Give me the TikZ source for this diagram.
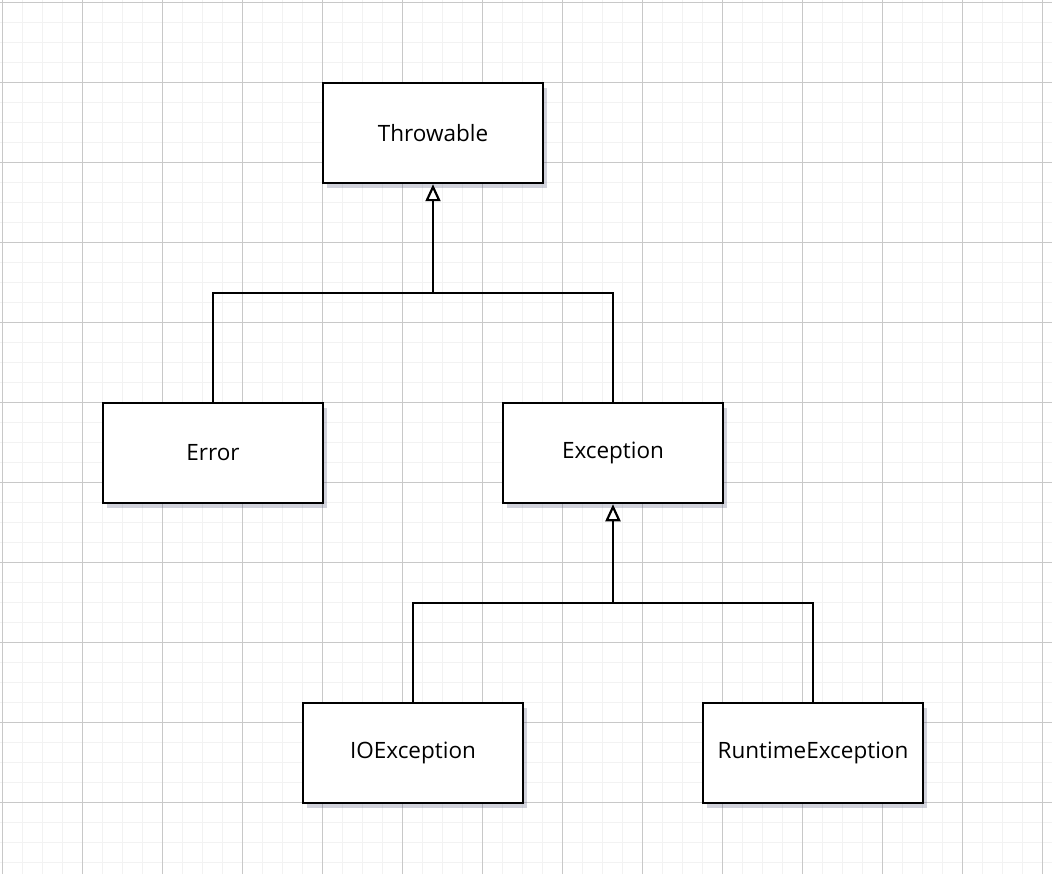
\documentclass[tikz,border=0pt]{standalone}
\usepackage{fontspec}
\setmainfont{Open Sans}
\usetikzlibrary{arrows.meta,shadows}
\definecolor{gridmajor}{HTML}{C8C8C8}
\definecolor{gridminor}{HTML}{F2F2F2}
\definecolor{shade}{HTML}{5A5F80}
\tikzset{
  cls/.style={draw=black, line width=2.5pt, fill=white, minimum width=220pt, minimum height=100pt,
    inner sep=0pt, font=\fontsize{22.5}{26}\selectfont,
    drop shadow={shadow xshift=4pt, shadow yshift=-5pt, opacity=0.28, fill=shade}},
  conn/.style={draw=black, line width=2.5pt},
  inherit/.style={conn, -{Triangle[open, length=17pt, width=15pt, line width=2.2pt, fill=white]}},
}
\begin{document}
\begin{tikzpicture}[x=1pt,y=-1pt]
\useasboundingbox (0,0) rectangle (1052,874);
\fill[white] (0,0) rectangle (1052,874);
\foreach \i in {22.5,42.5,...,1052} {\draw[gridminor, line width=1.8pt] (\i,0) -- (\i,874);}
\foreach \j in {22.5,42.5,...,874} {\draw[gridminor, line width=1.8pt] (0,\j) -- (1052,\j);}
\foreach \i in {2.5,82.5,...,1052} {\draw[gridmajor, line width=1.2pt] (\i,0) -- (\i,874);}
\foreach \j in {2.5,82.5,...,874} {\draw[gridmajor, line width=1.2pt] (0,\j) -- (1052,\j);}

\node[cls] (thr) at (433,133) {Throwable};
\node[cls] (err) at (213,453) {Error};
\node[cls] (exc) at (613,453) {Exception};
\node[cls] (ioe) at (413,753) {IOException};
\node[cls] (rte) at (813,753) {RuntimeException};

\coordinate (j1) at (433,293);
\coordinate (j2) at (613,603);

\draw[conn] (err.north) |- (j1) -| (exc.north);
\draw[inherit] (j1) -- (thr.south);
\draw[conn] (ioe.north) |- (j2) -| (rte.north);
\draw[inherit] (j2) -- (exc.south);
\end{tikzpicture}
\end{document}
